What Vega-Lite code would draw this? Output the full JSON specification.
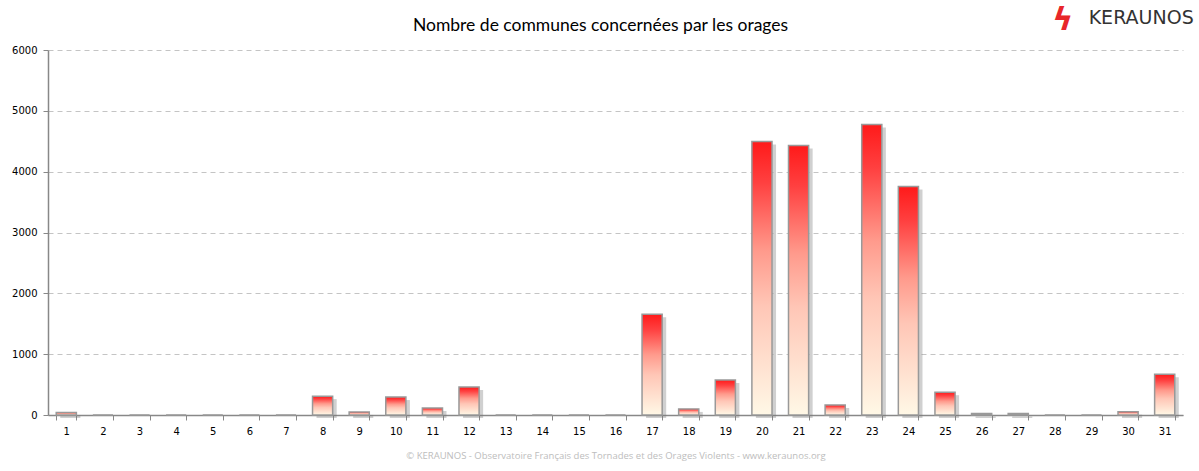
{
  "$schema": "https://vega.github.io/schema/vega-lite/v6.json",
  "autosize": {"type": "none"},
  "width": 1135,
  "height": 365,
  "padding": {"left": 48, "top": 50, "right": 16, "bottom": 56},
  "background": "white",
  "title": {
    "text": "Nombre de communes concernées par les orages",
    "anchor": "middle",
    "frame": "group",
    "fontSize": 17.5,
    "font": "Lato",
    "fontWeight": "normal",
    "color": "#000000",
    "offset": -30,
    "dx": -15
  },
  "config": {
    "view": {"stroke": null},
    "axis": {"labelFont": "DejaVu Sans", "labelFontSize": 10, "labelColor": "#000000"}
  },
  "data": {
    "values": [
      {"day": 1, "communes": 40},
      {"day": 2, "communes": 0},
      {"day": 3, "communes": 0},
      {"day": 4, "communes": 0},
      {"day": 5, "communes": 0},
      {"day": 6, "communes": 0},
      {"day": 7, "communes": 0},
      {"day": 8, "communes": 310},
      {"day": 9, "communes": 50},
      {"day": 10, "communes": 295},
      {"day": 11, "communes": 115},
      {"day": 12, "communes": 460},
      {"day": 13, "communes": 0},
      {"day": 14, "communes": 0},
      {"day": 15, "communes": 0},
      {"day": 16, "communes": 0},
      {"day": 17, "communes": 1655},
      {"day": 18, "communes": 100},
      {"day": 19, "communes": 575},
      {"day": 20, "communes": 4495},
      {"day": 21, "communes": 4430},
      {"day": 22, "communes": 165},
      {"day": 23, "communes": 4775},
      {"day": 24, "communes": 3755},
      {"day": 25, "communes": 375},
      {"day": 26, "communes": 25},
      {"day": 27, "communes": 25},
      {"day": 28, "communes": 0},
      {"day": 29, "communes": 0},
      {"day": 30, "communes": 55},
      {"day": 31, "communes": 670}
    ]
  },
  "encoding": {
    "x": {
      "field": "day",
      "type": "ordinal",
      "scale": {"paddingInner": 0.45, "paddingOuter": 0.225},
      "axis": {
        "labelAngle": 0,
        "tickBand": "extent",
        "tickSize": 5,
        "tickColor": "#888888",
        "domainColor": "#888888",
        "domainWidth": 1.5,
        "labelPadding": 6,
        "title": "© KERAUNOS - Observatoire Français des Tornades et des Orages Violents - www.keraunos.org",
        "titleFont": "Open Sans",
        "titleFontSize": 9.5,
        "titleFontWeight": "normal",
        "titleColor": "#bdbdbd",
        "titlePadding": 14
      }
    }
  },
  "layer": [
    {
      "mark": {"type": "bar", "color": "#777777", "opacity": 0.35, "xOffset": 4, "yOffset": 3, "y2Offset": 0},
      "encoding": {
        "y": {
          "field": "communes",
          "type": "quantitative",
          "scale": {"domain": [0, 6000]},
          "axis": {
            "values": [0, 1000, 2000, 3000, 4000, 5000, 6000],
            "title": null,
            "tickSize": 5,
            "tickColor": "#888888",
            "domainColor": "#888888",
            "domainWidth": 1.5,
            "labelPadding": 6,
            "grid": true,
            "gridColor": "#c4c4c4",
            "gridDash": [5, 4],
            "format": "d"
          }
        }
      }
    },
    {
      "mark": {
        "type": "bar",
        "stroke": "#999999",
        "strokeWidth": 1.5,
        "color": {
          "gradient": "linear",
          "x1": 0, "y1": 0, "x2": 0, "y2": 1,
          "stops": [
            {"offset": 0, "color": "#ff1a1a"},
            {"offset": 0.15, "color": "#ff4040"},
            {"offset": 0.4, "color": "#ff9a8c"},
            {"offset": 0.6, "color": "#ffc6b6"},
            {"offset": 1, "color": "#fff8e6"}
          ]
        }
      },
      "encoding": {
        "y": {"field": "communes", "type": "quantitative"}
      }
    },
    {
      "data": {"values": [{"logo": "KERAUNOS", "bolt": "ϟ"}]},
      "mark": {"type": "text", "align": "right", "baseline": "middle", "font": "DejaVu Sans", "fontSize": 19, "color": "#333333", "clip": false, "xOffset": 29},
      "encoding": {
        "x": {"datum": 31},
        "y": {"datum": 6520},
        "text": {"field": "logo"}
      }
    },
    {
      "data": {"values": [{"logo": "KERAUNOS", "bolt": "ϟ"}]},
      "mark": {"type": "text", "align": "center", "baseline": "middle", "font": "DejaVu Sans", "fontSize": 32, "fontWeight": "bold", "color": "#e8262a", "clip": false, "xOffset": -102, "yOffset": 2},
      "encoding": {
        "x": {"datum": 31},
        "y": {"datum": 6520},
        "text": {"field": "bolt"}
      }
    }
  ]
}
